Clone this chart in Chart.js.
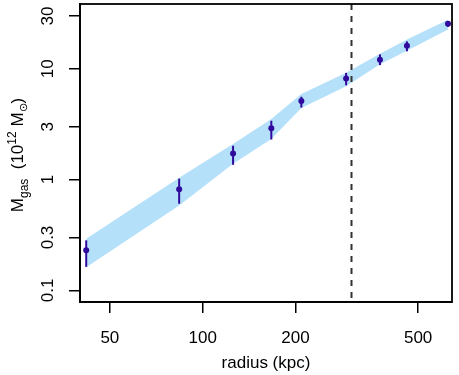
<!DOCTYPE html>
<html>
<head>
<meta charset="utf-8">
<script src="https://cdn.jsdelivr.net/npm/chart.js@4/dist/chart.umd.min.js"></script>
<style>
  body { margin: 0; background: #fff; }
  canvas { display: block; }
</style>
</head>
<body>
<canvas id="gas-chart" width="459" height="375"></canvas>
<script>
// data (kpc, 10^12 Msun)
const radius = [41.9, 83.9, 125.5, 167, 209, 292, 376, 460, 625];
const mass = [0.23, 0.82, 1.72, 2.91, 5.13, 8.2, 12.1, 16.2, 25.6];
const massHi = [0.283, 1.02, 2.02, 3.4, 5.6, 9.2, 13.5, 17.7, 26.9];
const massLo = [0.163, 0.605, 1.36, 2.3, 4.47, 7.1, 10.8, 14.4, 24.0];
const bandUpper = [0.292, 1.04, 2.1, 3.53, 5.93, 9.2, 13.7, 18.4, 27.8];
const bandLower = [0.162, 0.583, 1.39, 2.33, 4.43, 6.98, 11.0, 14.6, 22.6];
const rCut = 302;

const xTicks = [50, 100, 200, 500];
const yTicks = [0.1, 0.3, 1, 3, 10, 30];

const FONT = "Liberation Sans, Arial, Helvetica, sans-serif";
const pointColor = "#300a9c";

const toXY = (ys) => radius.map((r, i) => ({ x: r, y: ys[i] }));

const extras = {
  id: "extras",
  afterDatasetsDraw(chart) {
    const ctx = chart.ctx;
    const xs = chart.scales.x;
    const ys = chart.scales.y;
    const area = chart.chartArea;

    // error bars
    ctx.save();
    ctx.strokeStyle = pointColor;
    ctx.lineWidth = 2;
    radius.forEach((r, i) => {
      const px = xs.getPixelForValue(r);
      ctx.beginPath();
      ctx.moveTo(px, ys.getPixelForValue(massLo[i]));
      ctx.lineTo(px, ys.getPixelForValue(massHi[i]));
      ctx.stroke();
    });

    // dashed cut radius
    const cx = Math.round(xs.getPixelForValue(rCut)) + 0.5;
    ctx.strokeStyle = "#333";
    ctx.lineWidth = 2;
    ctx.setLineDash([6, 6]);
    ctx.beginPath();
    ctx.moveTo(cx, area.top);
    ctx.lineTo(cx, area.bottom);
    ctx.stroke();
    ctx.restore();
  },
  afterDraw(chart) {
    const ctx = chart.ctx;
    const xs = chart.scales.x;
    const ys = chart.scales.y;
    const area = chart.chartArea;

    ctx.save();
    ctx.strokeStyle = "#000";
    ctx.lineWidth = 1.8;
    ctx.strokeRect(area.left, area.top, area.right - area.left, area.bottom - area.top);

    ctx.fillStyle = "#000";
    ctx.font = "17px " + FONT;
    ctx.textAlign = "center";
    ctx.textBaseline = "alphabetic";
    xTicks.forEach((v) => {
      ctx.fillText(String(v), xs.getPixelForValue(v), 343);
    });
    ctx.fillText("radius (kpc)", (area.left + area.right) / 2, 368);

    yTicks.forEach((v) => {
      ctx.save();
      ctx.translate(53, ys.getPixelForValue(v));
      ctx.rotate(-Math.PI / 2);
      ctx.fillText(String(v), 0, 0);
      ctx.restore();
    });

    // y title with sub/superscripts
    const parts = [
      { t: "M", size: 17, shift: 0 },
      { t: "gas", size: 12, shift: 5 },
      { t: "  (10", size: 17, shift: 0 },
      { t: "12", size: 12, shift: -7 },
      { t: " M", size: 17, shift: 0 },
      { t: "\u2299", size: 11, shift: 4 },
      { t: ")", size: 17, shift: 0 },
    ];
    let total = 0;
    parts.forEach((p) => {
      ctx.font = p.size + "px " + FONT;
      p.w = ctx.measureText(p.t).width;
      total += p.w;
    });
    ctx.translate(23, (area.top + area.bottom) / 2 + 2);
    ctx.rotate(-Math.PI / 2);
    ctx.textAlign = "left";
    let pos = -total / 2;
    parts.forEach((p) => {
      ctx.font = p.size + "px " + FONT;
      ctx.fillText(p.t, pos, p.shift);
      pos += p.w;
    });
    ctx.restore();
  },
};

new Chart(document.getElementById("gas-chart"), {
  type: "scatter",
  data: {
    datasets: [
      {
        type: "line",
        data: toXY(bandLower),
        borderWidth: 0,
        pointRadius: 0,
        fill: false,
        order: 2,
      },
      {
        type: "line",
        data: toXY(bandUpper),
        borderWidth: 0,
        pointRadius: 0,
        backgroundColor: "#b4e0fa",
        fill: "-1",
        order: 1,
      },
      {
        data: toXY(mass),
        pointRadius: 3,
        pointBackgroundColor: pointColor,
        pointBorderColor: pointColor,
        pointBorderWidth: 0,
        clip: false,
        order: 0,
      },
    ],
  },
  options: {
    responsive: false,
    animation: false,
    events: [],
    layout: { padding: { left: 80, right: 7, top: 3, bottom: 73 } },
    plugins: {
      legend: { display: false },
      tooltip: { enabled: false },
    },
    scales: {
      x: {
        type: "logarithmic",
        min: 40,
        max: 644,
        afterBuildTicks: (s) => {
          s.ticks = xTicks.map((v) => ({ value: v }));
        },
        afterFit: (s) => {
          s.height = 0;
        },
        ticks: { display: false },
        grid: {
          drawOnChartArea: false,
          drawTicks: true,
          tickLength: 11,
          color: "#000",
          lineWidth: 1.5,
        },
        border: { display: true, color: "#000", width: 1.8 },
      },
      y: {
        type: "logarithmic",
        min: 0.0785,
        max: 38.5,
        afterBuildTicks: (s) => {
          s.ticks = yTicks.map((v) => ({ value: v }));
        },
        afterFit: (s) => {
          s.width = 0;
        },
        ticks: { display: false },
        grid: {
          drawOnChartArea: false,
          drawTicks: true,
          tickLength: 11,
          color: "#000",
          lineWidth: 1.5,
        },
        border: { display: true, color: "#000", width: 1.8 },
      },
    },
  },
  plugins: [extras],
});
</script>
</body>
</html>
